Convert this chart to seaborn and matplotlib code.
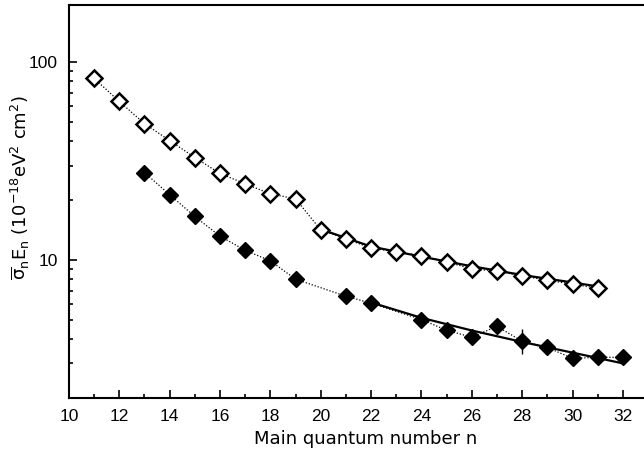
import matplotlib
matplotlib.use("Agg")
import matplotlib.pyplot as plt
from matplotlib.ticker import LogLocator, NullFormatter, FixedLocator
import seaborn as sns
import numpy as np

# open diamonds
n_open = [11, 12, 13, 14, 15, 16, 17, 18, 19, 20, 21, 22, 23, 24, 25, 26, 27, 28, 29, 30, 31]
sig_open = [83, 63.4, 49, 40.2, 33.0, 27.4, 24.3, 21.6, 20.4, 14.2, 12.8, 11.5, 11.0, 10.5,
            9.8, 9.0, 8.8, 8.3, 7.9, 7.55, 7.2]

# filled diamonds
n_full = [13, 14, 15, 16, 17, 18, 19, 21, 22, 24, 25, 26, 27, 28, 29, 30, 31, 32]
sig_full = [27.7, 21.4, 16.6, 13.2, 11.2, 9.9, 8.0, 6.56, 6.05, 5.0, 4.41, 4.07, 4.62,
            3.88, 3.61, 3.18, 3.22, 3.22]

# error bar on the n=28 filled point
err_n = [28]
err_lo = [3.33]
err_hi = [4.47]

# solid fitted curves
fit_open_n = [20, 22, 24, 26, 28, 30, 31]
fit_open_v = [14.3, 11.7, 10.4, 9.3, 8.4, 7.7, 7.35]
fit_full_n = [22, 24, 26, 28, 30, 32]
fit_full_v = [6.1, 5.1, 4.4, 3.85, 3.4, 3.0]

sns.set_style("ticks")
plt.rcParams['font.family'] = ['Liberation Sans', 'DejaVu Sans']
plt.rcParams['mathtext.fontset'] = 'dejavusans'
plt.rcParams['mathtext.default'] = 'regular'
plt.rcParams['text.color'] = 'k'
plt.rcParams['axes.labelcolor'] = 'k'
plt.rcParams['xtick.color'] = 'k'
plt.rcParams['ytick.color'] = 'k'

fig = plt.figure(figsize=(6.44, 4.53), dpi=100)
ax = fig.add_axes([0.107, 0.121, 0.92, 0.868])

# dotted connecting lines
sns.lineplot(x=n_open, y=sig_open, ax=ax, color='k', linestyle=(0, (1, 1.5)), lw=0.9)
sns.lineplot(x=n_full, y=sig_full, ax=ax, color='k', linestyle=(0, (1, 1.5)), lw=0.9)

# fits
sns.lineplot(x=fit_open_n, y=fit_open_v, ax=ax, color='k', lw=1.6)
sns.lineplot(x=fit_full_n, y=fit_full_v, ax=ax, color='k', lw=1.6)

# error bar
ax.vlines(err_n, err_lo, err_hi, color='k', lw=1.0, zorder=4)

# markers
ax.plot(n_open, sig_open, linestyle='none', marker='D', markersize=8,
        markerfacecolor='white', markeredgecolor='k', markeredgewidth=1.8, zorder=5)
ax.plot(n_full, sig_full, linestyle='none', marker='D', markersize=8.5,
        markerfacecolor='k', markeredgecolor='k', zorder=5)

ax.set_yscale('log')
ax.set_ylim(2, 195)
ax.set_xlim(10, 10 + 0.92 * 644 / 25.18)

ax.xaxis.set_major_locator(FixedLocator(list(range(10, 33, 2))))
ax.xaxis.set_minor_locator(FixedLocator(list(range(11, 34, 2))))
ax.yaxis.set_major_locator(FixedLocator([10, 100]))
ax.yaxis.set_minor_locator(LogLocator(base=10, subs=np.arange(2, 10)))
ax.yaxis.set_minor_formatter(NullFormatter())
ax.set_yticklabels(['10', '100'])

ax.tick_params(which='both', direction='in', width=1.2, labelsize=12.5,
               color='k', labelcolor='k')
ax.tick_params(which='major', length=6)
ax.tick_params(axis='x', which='major', pad=8)
ax.tick_params(axis='y', which='major', pad=8)
ax.tick_params(which='minor', length=3)

for s in ['left', 'bottom', 'top']:
    ax.spines[s].set_linewidth(1.5)
    ax.spines[s].set_color('k')
ax.spines['right'].set_visible(False)

ax.set_xlabel('Main quantum number n', fontsize=13, family='DejaVu Sans',
              labelpad=4, color='k')
ax.set_ylabel(r'$\overline{\sigma}_n E_n\ (10^{-18} eV^2\ cm^2)$', fontsize=13,
              family='DejaVu Sans', color='k')
ax.yaxis.set_label_coords(-0.062, 0.535)

fig.savefig('out.png', dpi=100)
